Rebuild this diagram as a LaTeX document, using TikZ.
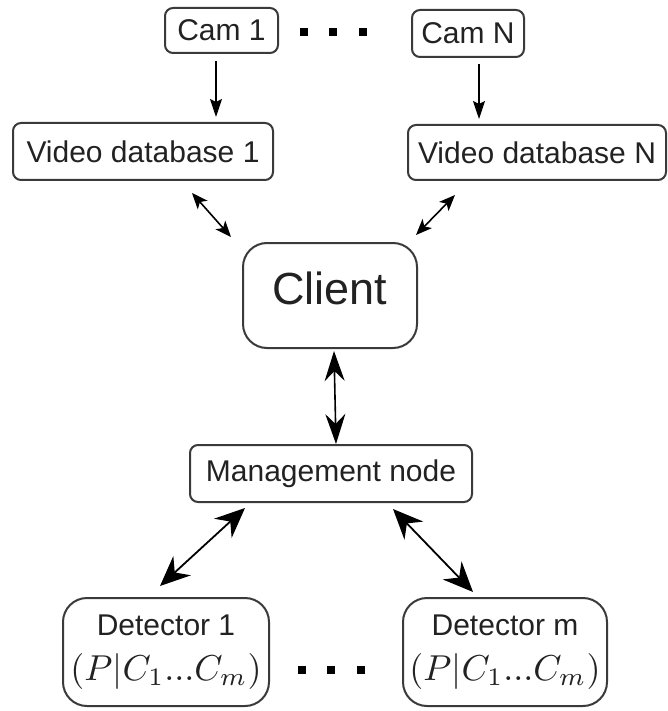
\documentclass[tikz,border=0pt]{standalone}
\usepackage{graphicx}
\usepackage[no-math]{fontspec}
\setmainfont{Liberation Sans}
\usetikzlibrary{arrows.meta}

\definecolor{boxline}{HTML}{3A3A3A}
\definecolor{ink}{HTML}{222222}

\tikzset{
  box/.style={draw=boxline, line width=2pt, rounded corners=8pt, inner sep=0pt,
    text=ink, font=\fontsize{30}{36}\selectfont},
  bigbox/.style={box, rounded corners=24pt},
  sq/.style={fill=black, minimum size=8pt, inner sep=0pt},
  feed/.style={line width=1.6pt, -{Stealth[length=18pt, width=12pt, inset=3pt]}},
  link/.style={line width=1.6pt, {Stealth[length=16pt, width=13pt, inset=4pt]}-{Stealth[length=16pt, width=13pt, inset=4pt]}},
  mlink/.style={line width=1.6pt, {Stealth[length=30pt, width=20pt, inset=10pt]}-{Stealth[length=30pt, width=20pt, inset=10pt]}},
  dlink/.style={line width=1.8pt, {Stealth[length=30pt, width=26pt, inset=10pt]}-{Stealth[length=30pt, width=26pt, inset=10pt]}},
}
\newcommand{\detmath}{\scalebox{3.6}{\fontsize{10}{12}\selectfont$(P|C_1...C_m)$}}

\begin{document}
\begin{tikzpicture}[x=1pt, y=-1pt]
  \useasboundingbox (0,0) rectangle (668,711);

  % cameras
  \node[box, minimum width=113pt, minimum height=45pt] (cam1) at (221.5,30.5) {Cam 1};
  \node[box, minimum width=112pt, minimum height=47pt] (camN) at (468,33.5) {Cam N};
  \node[sq] (t1) at (304,32) {};
  \node[sq] (t2) at (333,32) {};
  \node[sq] (t3) at (363,32) {};

  % video databases
  \node[box, minimum width=260pt, minimum height=57pt] (vdb1) at (143,151.5) {Video database 1};
  \node[box, minimum width=258pt, minimum height=55pt] (vdbN) at (537,152.5) {Video database N};

  % client
  \node[bigbox, minimum width=174pt, minimum height=105pt, font=\fontsize{45}{50}\selectfont]
    (client) at (330,295.5) {\raisebox{7pt}[\height][\depth]{Client}};

  % management node
  \node[box, minimum width=282pt, minimum height=57pt] (mgmt) at (331,473.5) {Management node};

  % detectors
  \node[bigbox, minimum width=206pt, minimum height=108pt, align=center]
    (det1) at (166,652) {Detector 1\\[9pt]\detmath};
  \node[bigbox, minimum width=204pt, minimum height=108pt, align=center]
    (detm) at (505,652) {Detector m\\[9pt]\detmath};
  \node[sq] (b1) at (302,670) {};
  \node[sq] (b2) at (331,670) {};
  \node[sq] (b3) at (361,670) {};

  % connectors
  \draw[feed] ([shift={(-5.5,7)}]cam1.south) -- ([shift={(73,-5)}]vdb1.north);
  \draw[feed] ([shift={(11,6)}]camN.south) -- ([shift={(-58,-5)}]vdbN.north);
  \draw[link] ([shift={(49,12)}]vdb1.south) -- ([shift={(-11,-5)}]client.north west);
  \draw[link] ([shift={(-82,14)}]vdbN.south) -- ([shift={(-2,-7)}]client.north east);
  \draw[mlink] ([shift={(4,2)}]client.south) -- ([shift={(5,0)}]mgmt.north);
  \draw[dlink] ([shift={(-86,5)}]mgmt.south) -- ([shift={(-6,-11)}]det1.north);
  \draw[dlink] ([shift={(62,6)}]mgmt.south) -- ([shift={(-32,-5)}]detm.north);
\end{tikzpicture}
\end{document}
